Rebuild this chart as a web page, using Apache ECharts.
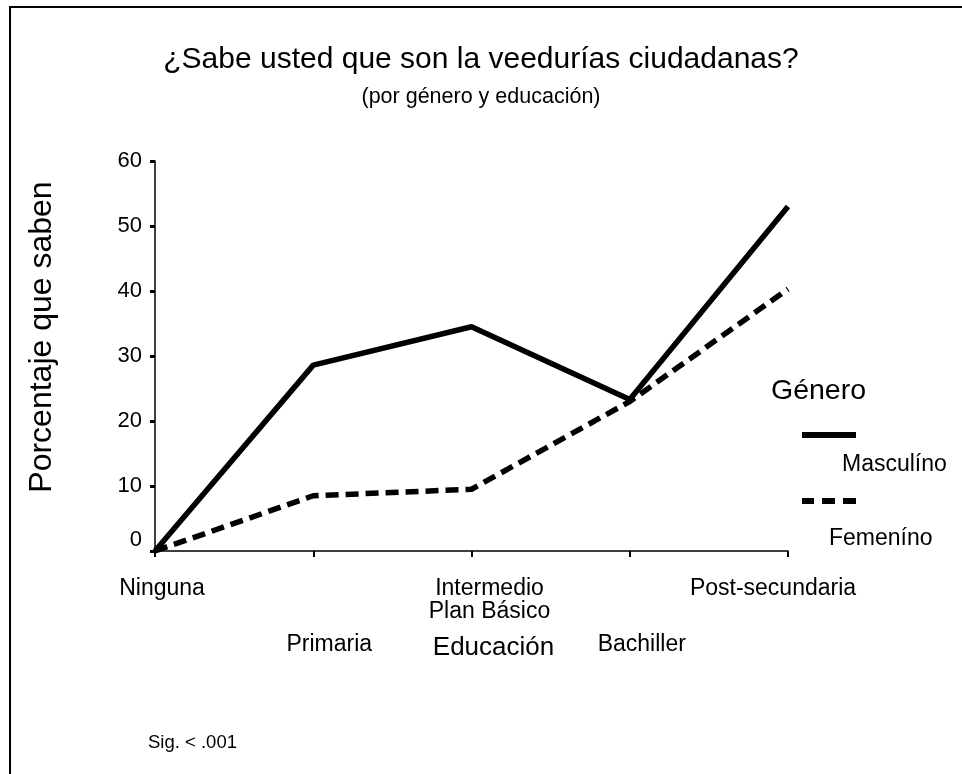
<!DOCTYPE html>
<html>
<head>
<meta charset="utf-8">
<script src="https://cdn.jsdelivr.net/npm/echarts@6/dist/echarts.min.js"></script>
<style>
  html, body { margin: 0; padding: 0; background: #fff; }
  #chart { width: 962px; height: 774px; }
</style>
</head>
<body>
<div id="chart"></div>
<script>
// categorias de educacion y porcentajes
const categories = ['Ninguna', 'Primaria', 'Intermedio\nPlan Básico', 'Bachiller', 'Post-secundaria'];
const masculino = [0, 28.6, 34.5, 23.3, 53];
const femenino = [0, 8.5, 9.5, 23, 40.3];
const yTicks = [0, 10, 20, 30, 40, 50, 60];

// desplazamiento horizontal de cada etiqueta (como en el original)
const labelShift = [7, 16, 18, 12, -15];

const chart = echarts.init(document.getElementById('chart'));
const font = 'Liberation Sans, Arial, sans-serif';
const LBL = 23;

const option = {
  animation: false,
  textStyle: { fontFamily: font, color: '#000' },
  title: {
    text: '¿Sabe usted que son la veedurías ciudadanas?',
    subtext: '(por género y educación)',
    left: 476,
    textAlign: 'center',
    top: 40,
    itemGap: 11,
    textStyle: { fontFamily: font, fontSize: 30, fontWeight: 'normal', color: '#000' },
    subtextStyle: { fontFamily: font, fontSize: 21.5, color: '#000' }
  },
  grid: { left: 155, right: 174, top: 161, bottom: 223 },
  legend: {
    orient: 'vertical',
    left: 802,
    top: 432,
    padding: 0,
    itemWidth: 54,
    itemHeight: 6,
    itemGap: 60,
    formatter: () => '',
    textStyle: { fontSize: 1 },
    selectedMode: false,
    data: [
      { name: 'Masculíno', icon: 'rect' },
      { name: 'Femeníno', icon: 'path://M0,0h12v6h-12z M20,0h13v6h-13z M41,0h13v6h-13z' }
    ]
  },
  xAxis: {
    type: 'category',
    data: categories,
    boundaryGap: false,
    name: 'Educación',
    nameLocation: 'middle',
    nameGap: 84,
    nameMoveOverlap: false,
    nameTextStyle: { fontSize: 26, color: '#000', padding: [0, 0, 0, 44] },
    axisLine: { lineStyle: { color: '#000', width: 1.5 } },
    axisTick: { alignWithLabel: true, length: 6, lineStyle: { color: '#000', width: 2 } },
    axisLabel: {
      interval: 0,
      margin: 26,
      fontSize: LBL,
      lineHeight: 23,
      color: '#000',
      formatter: (v, i) => {
        const s = labelShift[i];
        const pad = s >= 0 ? 'r' : 'l';
        const key = (i % 2 === 1 ? 'lo' : 'hi') + pad + Math.abs(s);
        return v.split('\n').map(t => '{' + key + '|' + t + '}').join('\n');
      },
      rich: (() => {
        const r = {};
        labelShift.forEach(s => {
          const a = Math.abs(s);
          r['hir' + a] = { fontSize: LBL, lineHeight: 23, padding: [0, 0, 0, 2 * a] };
          r['hil' + a] = { fontSize: LBL, lineHeight: 23, padding: [0, 2 * a, 0, 0] };
          r['lor' + a] = { fontSize: LBL, lineHeight: 23, padding: [112, 0, 0, 2 * a] };
          r['lol' + a] = { fontSize: LBL, lineHeight: 23, padding: [112, 2 * a, 0, 0] };
        });
        return r;
      })()
    }
  },
  yAxis: {
    type: 'value',
    min: yTicks[0],
    max: yTicks[yTicks.length - 1],
    interval: 10,
    name: 'Porcentaje que saben',
    nameLocation: 'middle',
    nameGap: 97,
    nameTextStyle: { fontSize: 32, color: '#000', padding: [0, 0, 0, 38] },
    splitLine: { show: false },
    axisLine: { show: true, lineStyle: { color: '#000', width: 1.5 } },
    axisTick: { show: true, length: 5, lineStyle: { color: '#000', width: 3 } },
    axisLabel: {
      fontSize: 22,
      color: '#000',
      margin: 13,
      formatter: v => (v === 0 ? '{z|0}' : String(v)),
      rich: { z: { fontSize: 22, padding: [0, 0, 22, 0] } }
    }
  },
  series: [
    {
      name: 'Masculíno',
      type: 'line',
      data: masculino,
      symbol: 'none',
      lineStyle: { color: '#000', width: 5.5 },
      itemStyle: { color: '#000' }
    },
    {
      name: 'Femeníno',
      type: 'line',
      data: femenino,
      symbol: 'none',
      lineStyle: { color: '#000', width: 5.5, type: [13, 7] },
      itemStyle: { color: '#000' }
    }
  ],
  graphic: [
    { type: 'rect', shape: { x: 10, y: 7, width: 1000, height: 900 }, style: { fill: null, stroke: '#000', lineWidth: 2 }, z: -1 },
    { type: 'text', left: 771, top: 377, style: { text: 'Género', font: '28.5px ' + font, fill: '#000' } },
    { type: 'text', left: 842, top: 453, style: { text: 'Masculíno', font: '23px ' + font, fill: '#000' } },
    { type: 'text', left: 829, top: 527, style: { text: 'Femeníno', font: '23px ' + font, fill: '#000' } },
    { type: 'text', left: 148, top: 733, style: { text: 'Sig. < .001', font: '18.5px ' + font, fill: '#000' } }
  ]
};

option && chart.setOption(option);
</script>
</body>
</html>
